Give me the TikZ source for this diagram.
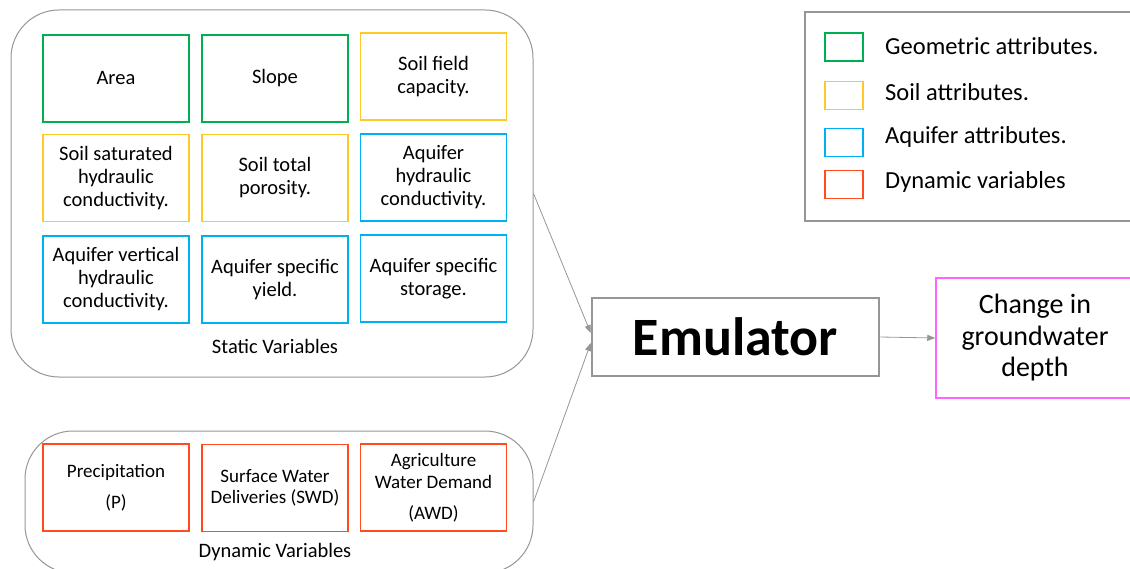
\documentclass[tikz,border=0pt]{standalone}
\usepackage{fontspec}
\setmainfont{Carlito}
\usetikzlibrary{arrows.meta}
\definecolor{geoclr}{RGB}{0,176,80}
\definecolor{soilclr}{RGB}{255,200,40}
\definecolor{aqclr}{RGB}{0,176,240}
\definecolor{dynclr}{RGB}{255,75,30}
\definecolor{outclr}{RGB}{255,100,255}
\definecolor{lineclr}{RGB}{150,150,150}
\begin{document}
\begin{tikzpicture}[x=1pt,y=-1pt,
    attr/.style={draw,line width=1.5pt,minimum width=146pt,minimum height=87pt,
        align=center,inner sep=2pt,font=\fontsize{20.5}{23}\selectfont},
    group/.style={draw=lineclr,line width=1pt,rounded corners=48pt},
    key/.style={draw,line width=1.5pt,minimum width=38pt,minimum height=28pt},
    keytext/.style={anchor=west,inner sep=0pt,font=\fontsize{24.5}{28}\selectfont},
    link/.style={draw=lineclr,line width=0.8pt,-{Triangle[length=8pt,width=6pt]}}]
    \useasboundingbox (0,0) rectangle (1130,569);
    \clip (0,0) rectangle (1130,569);

    % groups
    \node [group,minimum width=522pt,minimum height=367pt](static)at(272,193.5){};
    \node [group,minimum width=508pt,minimum height=142pt](dynamic)at(279,502){};
    \node [font=\fontsize{20.5}{23}\selectfont](slabel)at(275,346){Static Variables};
    \node [font=\fontsize{20.5}{23}\selectfont](dlabel)at(275,552){Dynamic Variables};

    % static variables
    \node [attr,draw=geoclr](area)at(116,78.5){Area};
    \node [attr,draw=geoclr](slope)at(275,78.5){Slope};
    \node [attr,draw=soilclr](sfc)at(433.5,76.5){Soil field\\capacity.};
    \node [attr,draw=soilclr](ssh)at(116,178){Soil saturated\\hydraulic\\conductivity.};
    \node [attr,draw=soilclr](stp)at(275,178){Soil total\\porosity.};
    \node [attr,draw=aqclr](ahc)at(433.5,177.5){Aquifer\\hydraulic\\conductivity.};
    \node [attr,draw=aqclr](avh)at(116,279.5){Aquifer vertical\\hydraulic\\conductivity.};
    \node [attr,draw=aqclr](asy)at(275,279.5){Aquifer specific\\yield.};
    \node [attr,draw=aqclr](ass)at(433.5,278.5){Aquifer specific\\storage.};

    % dynamic variables
    \node [attr,draw=dynclr,font=\fontsize{19}{22}\selectfont](prec)at(116,487.5){Precipitation\\[9pt](P)};
    \node [attr,draw=dynclr,font=\fontsize{19}{21}\selectfont](swd)at(275,488){Surface Water\\Deliveries (SWD)};
    \node [attr,draw=dynclr,font=\fontsize{19}{22}\selectfont](awd)at(433.5,487.5){Agriculture\\Water Demand\\[9pt](AWD)};

    % emulator and output
    \node [draw=lineclr,line width=2.5pt,minimum width=287pt,minimum height=78pt,
        font=\fontsize{54}{60}\selectfont\bfseries](emu)at(735.5,337){Emulator};
    \node [draw=outclr,line width=1.5pt,minimum width=198pt,minimum height=120pt,align=center,
        font=\fontsize{28}{31.5}\selectfont](out)at(1035,338){Change in\\groundwater\\depth};

    \draw [link] (static.east) -- ([yshift=4pt]emu.west);
    \draw [link] (dynamic.east) -- ([yshift=-6pt]emu.west);
    \draw [link] (emu.east) -- (out.west);

    % legend
    \node [draw=lineclr,line width=1.5pt,minimum width=340pt,minimum height=209pt](legend)at(975,116.5){};
    \node [key,draw=geoclr](kgeo)at(844,47){};
    \node [key,draw=soilclr](ksoil)at(844,95.5){};
    \node [key,draw=aqclr](kaq)at(844,142.5){};
    \node [key,draw=dynclr](kdyn)at(844,184.5){};
    \node [keytext](tgeo)at(885,46){Geometric attributes.};
    \node [keytext](tsoil)at(885,92){Soil attributes.};
    \node [keytext](taq)at(885,137){Aquifer attributes.};
    \node [keytext](tdyn)at(885,182){Dynamic variables};
\end{tikzpicture}
\end{document}
